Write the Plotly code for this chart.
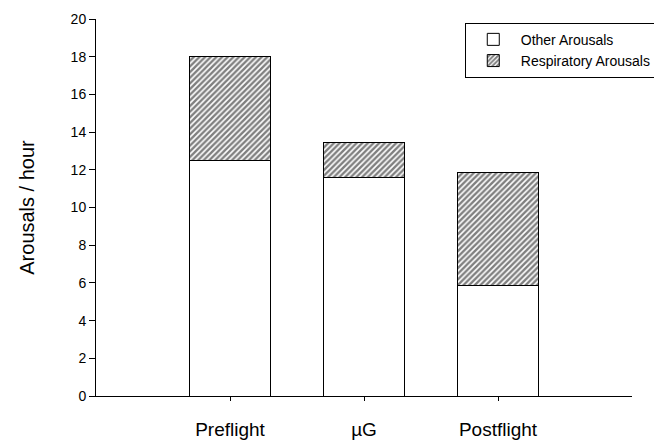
import plotly.graph_objects as go

phases = ["Preflight", "\u00b5G", "Postflight"]
other_arousals = [12.5, 11.6, 5.85]
respiratory_arousals = [5.5, 1.85, 6.0]
y_ticks = [0, 2, 4, 6, 8, 10, 12, 14, 16, 18, 20]

font = "Arial, Liberation Sans, Helvetica, sans-serif"

fig = go.Figure()
fig.add_trace(go.Bar(
    x=phases, y=other_arousals, name="Other Arousals",
    marker=dict(color="white", line=dict(color="black", width=1)),
    width=0.6,
))
fig.add_trace(go.Bar(
    x=phases, y=respiratory_arousals, name="Respiratory Arousals",
    marker=dict(color="white", line=dict(color="black", width=1),
                pattern=dict(shape="/", fgcolor="black", bgcolor="white",
                             size=4, solidity=0.6)),
    width=0.6,
))

# page body adds an 8px offset, so the figure is a bit smaller than the window
fig.update_layout(
    barmode="stack",
    width=654, height=437,
    margin=dict(l=88, r=30, t=11, b=49, autoexpand=False),
    plot_bgcolor="white", paper_bgcolor="white",
    font=dict(family=font, color="black", size=13),
    showlegend=True,
    legend=dict(
        x=0.688, y=0.99, xanchor="left", yanchor="top",
        traceorder="normal",
        bordercolor="black", borderwidth=1,
        bgcolor="white",
        font=dict(size=14),
        itemwidth=45,
        tracegroupgap=0,
    ),
)
fig.update_xaxes(
    type="category", range=[-1, 3],
    showline=True, linecolor="black", linewidth=1,
    ticks="outside", ticklen=4, tickcolor="black",
    tickfont=dict(size=19), ticklabelstandoff=12,
    showgrid=False, zeroline=False,
)
fig.update_yaxes(
    range=[0, 20], tickvals=y_ticks,
    showline=True, linecolor="black", linewidth=1,
    ticks="outside", ticklen=6, tickcolor="black",
    tickfont=dict(size=14),
    title=dict(text="Arousals / hour", font=dict(size=20), standoff=30),
    showgrid=False, zeroline=False,
)

fig.write_html("out.html")
